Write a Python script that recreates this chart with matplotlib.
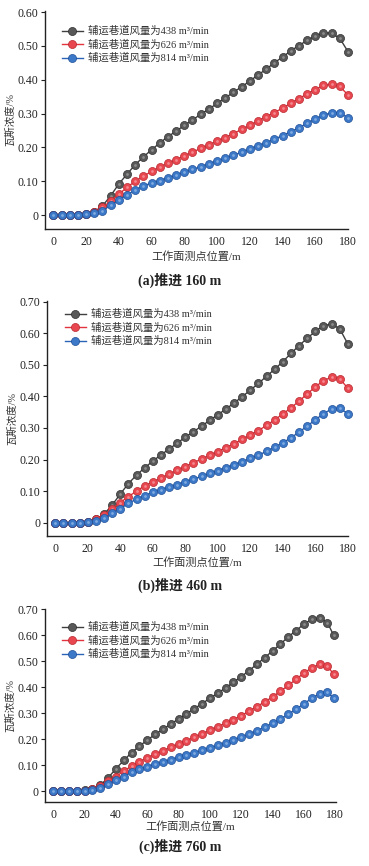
import matplotlib
matplotlib.use("Agg")
import matplotlib.pyplot as plt
import numpy as np

plt.rcParams["font.family"] = ["Liberation Serif", "Noto Sans CJK SC"]
plt.rcParams["axes.unicode_minus"] = False

# measuring-point positions along the face (m)
X_A = [0, 5, 10, 15, 20, 25, 30, 35, 40, 45, 50, 55, 60, 65, 70, 75, 80, 85,
       90, 95, 100, 105, 110, 115, 120, 125, 130, 135, 140, 145, 150, 155,
       160, 165, 170, 175, 180]
X_C = X_A[:-1] + [179]

SERIES_LABELS = ["辅运巷道风量为438 m³/min",
                 "辅运巷道风量为626 m³/min",
                 "辅运巷道风量为814 m³/min"]

# (a) advance 160 m
A_438 = [0, 0, 0, 0, 0.002, 0.010, 0.027, 0.057, 0.092, 0.121, 0.149, 0.172,
         0.193, 0.213, 0.232, 0.248, 0.265, 0.281, 0.298, 0.313, 0.330, 0.346,
         0.363, 0.379, 0.396, 0.414, 0.431, 0.450, 0.467, 0.485, 0.501, 0.516,
         0.529, 0.538, 0.538, 0.522, 0.483]
A_626 = [0, 0, 0, 0, 0.002, 0.009, 0.023, 0.041, 0.062, 0.082, 0.100, 0.115,
         0.129, 0.142, 0.153, 0.164, 0.175, 0.186, 0.197, 0.207, 0.219, 0.229,
         0.241, 0.253, 0.265, 0.278, 0.291, 0.303, 0.316, 0.330, 0.344, 0.358,
         0.371, 0.383, 0.387, 0.380, 0.355]
A_814 = [0, 0, 0, 0, 0.002, 0.005, 0.013, 0.029, 0.044, 0.060, 0.074, 0.086,
         0.095, 0.102, 0.110, 0.118, 0.127, 0.135, 0.143, 0.152, 0.160, 0.168,
         0.177, 0.186, 0.195, 0.205, 0.214, 0.224, 0.235, 0.246, 0.258, 0.271,
         0.284, 0.295, 0.303, 0.303, 0.287]

# (b) advance 460 m
B_438 = [0, 0, 0, 0, 0.003, 0.011, 0.027, 0.056, 0.091, 0.124, 0.151, 0.174,
         0.195, 0.215, 0.233, 0.252, 0.271, 0.288, 0.306, 0.324, 0.342, 0.360,
         0.379, 0.399, 0.420, 0.441, 0.464, 0.486, 0.510, 0.536, 0.561, 0.584,
         0.606, 0.624, 0.629, 0.614, 0.566]
B_626 = [0, 0, 0, 0, 0.002, 0.011, 0.024, 0.044, 0.064, 0.083, 0.100, 0.117,
         0.129, 0.141, 0.154, 0.166, 0.178, 0.190, 0.202, 0.213, 0.225, 0.238,
         0.250, 0.264, 0.278, 0.292, 0.308, 0.326, 0.344, 0.364, 0.385, 0.408,
         0.430, 0.450, 0.461, 0.456, 0.426]
B_814 = [0, 0, 0, 0, 0.001, 0.005, 0.014, 0.030, 0.045, 0.061, 0.075, 0.086,
         0.096, 0.105, 0.113, 0.121, 0.130, 0.138, 0.147, 0.156, 0.165, 0.174,
         0.184, 0.193, 0.204, 0.214, 0.226, 0.239, 0.253, 0.269, 0.287, 0.306,
         0.326, 0.345, 0.360, 0.363, 0.345]

# (c) advance 760 m
C_438 = [0, 0, 0, 0, 0.003, 0.009, 0.023, 0.051, 0.086, 0.118, 0.148, 0.173,
         0.196, 0.218, 0.237, 0.258, 0.277, 0.297, 0.317, 0.336, 0.357, 0.376,
         0.397, 0.418, 0.440, 0.463, 0.488, 0.513, 0.539, 0.565, 0.593, 0.617,
         0.642, 0.660, 0.665, 0.648, 0.599]
C_626 = [0, 0, 0, 0, 0.001, 0.008, 0.019, 0.037, 0.056, 0.077, 0.096, 0.113,
         0.128, 0.142, 0.155, 0.168, 0.181, 0.194, 0.207, 0.220, 0.234, 0.248,
         0.261, 0.275, 0.290, 0.307, 0.325, 0.343, 0.362, 0.384, 0.406, 0.430,
         0.453, 0.474, 0.487, 0.481, 0.449]
C_814 = [0, 0, 0, 0, 0.001, 0.004, 0.010, 0.026, 0.041, 0.056, 0.072, 0.085,
         0.094, 0.104, 0.112, 0.121, 0.130, 0.139, 0.148, 0.157, 0.166, 0.176,
         0.186, 0.196, 0.208, 0.219, 0.232, 0.246, 0.261, 0.277, 0.295, 0.315,
         0.335, 0.357, 0.374, 0.379, 0.358]

CAPTIONS = ["(a)推进 160 m", "(b)推进 460 m", "(c)推进 760 m"]
Y_TICKS_A = [0, 0.1, 0.2, 0.3, 0.4, 0.5, 0.6]
Y_TICKS_BC = [0, 0.1, 0.2, 0.3, 0.4, 0.5, 0.6, 0.7]
X_TICKS = [0, 20, 40, 60, 80, 100, 120, 140, 160, 180]

# line colour, marker face, marker edge, highlight
STYLES = [("#3f3f3f", "#585858", "#2e2e2e", "#9a9a9a"),
          ("#e2343e", "#e8474f", "#b82830", "#f49aa0"),
          ("#2b63b6", "#3c78c8", "#1f4f96", "#93b8e6")]

W, H = 369, 866
fig = plt.figure(figsize=(W / 100, H / 100), dpi=100)


def px_axes(left, right, top, bottom):
    return fig.add_axes([left / W, 1 - bottom / H, (right - left) / W,
                         (bottom - top) / H])


# panel geometry in pixels: (left, right, top, bottom), xlim, ylim, ...,
# legend upper-left corner (px), x-label y, caption y
PANELS = [
    ((45, 348, 11, 229), (-5.1, 180.0), (-0.041, 0.603), X_A,
     [A_438, A_626, A_814], Y_TICKS_A, (62, 26), 257, 280),
    ((47, 348, 301, 536), (-5.1, 180.1), (-0.042, 0.702), X_A,
     [B_438, B_626, B_814], Y_TICKS_BC, (65, 309), 563, 585),
    ((45, 336, 609, 802), (-5.3, 180.5), (-0.042, 0.70), X_C,
     [C_438, C_626, C_814], Y_TICKS_BC, (62, 622), 827, 846),
]

for i, (box, xlim, ylim, xs, ys_list, yticks, leg_xy, xlab_y, cap_y) in enumerate(PANELS):
    ax = px_axes(*box)
    handles = []
    for ys, lab, (lc, fc, ec, hc) in zip(ys_list, SERIES_LABELS, STYLES):
        h, = ax.plot(xs, ys, color=lc, lw=1.0, marker="o", ms=5.8,
                     mfc=fc, mec=ec, mew=0.5, label=lab, clip_on=False)
        ax.plot(xs, ys, ls="none", marker="o", ms=2.0, mfc=hc, mec="none",
                alpha=0.8, clip_on=False)
        handles.append(h)
    ax.set_xlim(*xlim)
    ax.set_ylim(*ylim)
    ax.set_xticks(X_TICKS)
    ax.set_yticks(yticks)
    ax.set_yticklabels(["0"] + [f"{v:.2f}" for v in yticks[1:]])
    for s in ("top", "right"):
        ax.spines[s].set_visible(False)
    for s in ("left", "bottom"):
        ax.spines[s].set_linewidth(1.0)
        ax.spines[s].set_color("#222222")
    ax.tick_params(axis="y", direction="out", length=3, width=0.8,
                   labelsize=8.5, pad=1.5, colors="#222222")
    ax.tick_params(axis="x", length=0, labelsize=8.5, pad=5, colors="#222222")
    ax.set_ylabel("瓦斯浓度/%", fontsize=7.5, labelpad=2, color="#333333")
    fig.text((box[0] + box[1]) / 2 / W, 1 - xlab_y / H, "工作面测点位置/m",
             ha="center", va="center", fontsize=8, color="#333333")
    fig.text(180 / W, 1 - cap_y / H, CAPTIONS[i], ha="center", va="center",
             fontsize=10, fontweight="bold", color="#222222")
    leg = ax.legend(handles=handles, loc="upper left", frameon=False,
                    bbox_to_anchor=(leg_xy[0] / W, 1 - leg_xy[1] / H),
                    bbox_transform=fig.transFigure, fontsize=7.5,
                    handlelength=2.0, handletextpad=0.45, labelspacing=0.3,
                    borderpad=0, borderaxespad=0)
    for t in leg.get_texts():
        t.set_color("#333333")

fig.savefig("out.png", dpi=100)
